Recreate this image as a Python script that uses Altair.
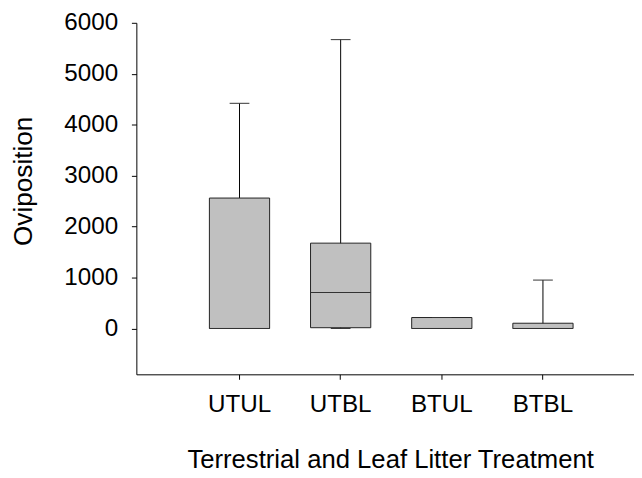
import altair as alt
import pandas as pd

categories = ["UTUL", "UTBL", "BTUL", "BTBL"]
whisker_low = [0, 0, 0, 0]
q1 = [0, 15, 0, 0]
median = [0, 705, 0, 0]
q3 = [2560, 1675, 215, 103]
whisker_high = [4420, 5670, 215, 950]

df = pd.DataFrame({
    "cat": categories,
    "lo": whisker_low,
    "q1": q1,
    "med": median,
    "q3": q3,
    "hi": whisker_high,
})

FONT = "Liberation Sans"

xscale = alt.Scale(domain=categories, paddingInner=0, paddingOuter=0.46, align=0.565)
yscale = alt.Scale(domain=[-900, 6000], nice=False, zero=False)

xaxis = alt.Axis(
    title="Terrestrial and Leaf Litter Treatment",
    labelAngle=0, labelFontSize=24.5, labelFont=FONT, labelColor="black",
    labelPadding=14, tickSize=5, tickColor="black", domainColor="black",
    titleFont=FONT, titleFontSize=26, titleFontWeight="normal", titleColor="black",
    titleX=257, titleY=94, titleAlign="center", titleBaseline="alphabetic",
    grid=False,
)
yaxis = alt.Axis(
    title="Oviposition",
    values=[0, 1000, 2000, 3000, 4000, 5000, 6000],
    format="d",
    labelFontSize=24.5, labelFont=FONT, labelColor="black",
    labelPadding=14, tickSize=5, tickColor="black", domainColor="black",
    titleFont=FONT, titleFontSize=26.5, titleFontWeight="normal", titleColor="black",
    titleX=-106.3, titleY=160, titleAlign="center", titleBaseline="alphabetic",
    grid=False,
)

base = alt.Chart(df)
x = alt.X("cat:N", scale=xscale, axis=xaxis, sort=categories)

whisker = base.mark_rule(color="black", strokeWidth=1).encode(
    x=x,
    y=alt.Y("lo:Q", scale=yscale, axis=yaxis),
    y2="hi:Q",
)
box = base.mark_bar(size=61, fill="#c0c0c0", stroke="#222222", strokeWidth=1).encode(
    x=x, y=alt.Y("q1:Q", scale=yscale), y2="q3:Q"
)
med = base.mark_tick(size=61, thickness=1, color="#333333", opacity=1).encode(
    x=x, y=alt.Y("med:Q", scale=yscale)
)
cap_hi = base.mark_tick(size=20, thickness=1, color="#333333", opacity=1).encode(
    x=x, y=alt.Y("hi:Q", scale=yscale)
)
cap_lo = base.mark_tick(size=20, thickness=1, color="#333333", opacity=1).encode(
    x=x, y=alt.Y("lo:Q", scale=yscale)
)

chart = alt.layer(whisker, box, med, cap_hi, cap_lo).properties(
    width=504,
    height=356,
    autosize=alt.AutoSizeParams(type="none"),
    padding={"left": 130, "top": 12, "right": 0, "bottom": 102},
    background="white",
).configure_view(stroke="transparent")

chart.save("out.html", embed_options={"renderer": "svg", "actions": False})
